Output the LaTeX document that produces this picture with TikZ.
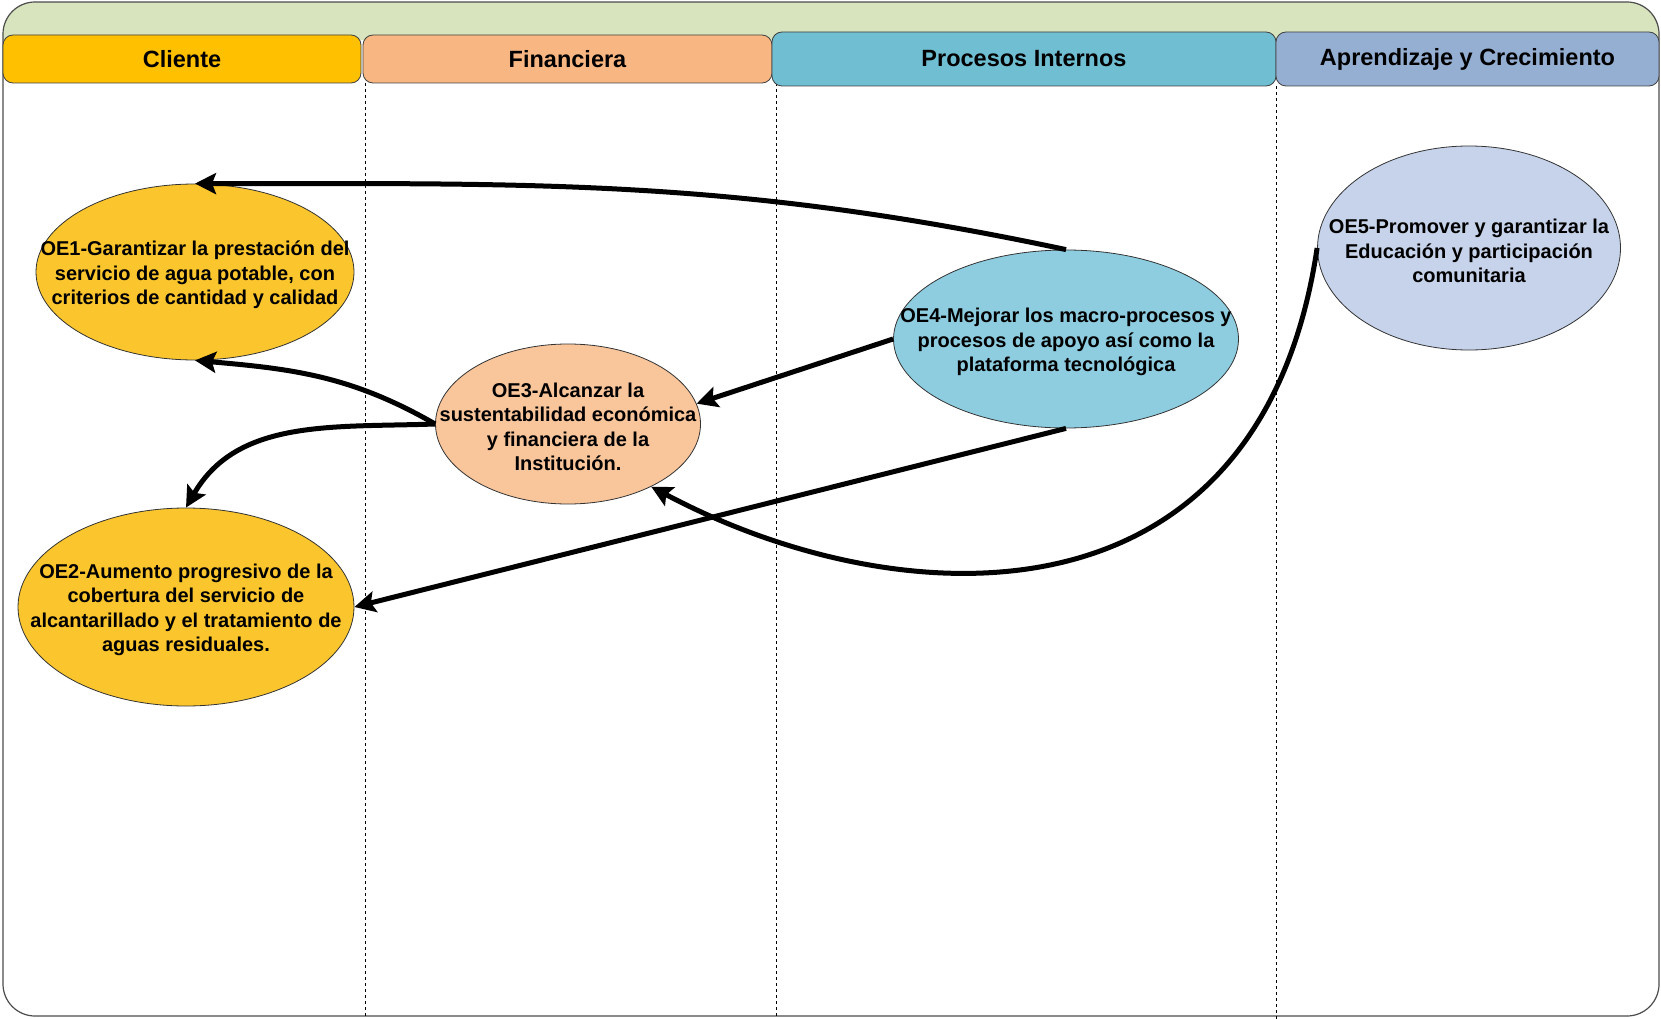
\documentclass[tikz,border=0pt]{standalone}
\usepackage{fontspec}
\setmainfont{Liberation Sans}
\usetikzlibrary{arrows.meta,shapes.geometric}
\definecolor{greeni}{RGB}{215,228,189}
\definecolor{yellowi}{RGB}{255,192,0}
\definecolor{yellowii}{RGB}{251,198,45}
\definecolor{orangei}{RGB}{248,183,130}
\definecolor{orangeii}{RGB}{249,197,155}
\definecolor{bluei}{RGB}{111,190,209}
\definecolor{blueii}{RGB}{142,205,224}
\definecolor{lilaci}{RGB}{149,175,211}
\definecolor{lilacii}{RGB}{198,211,234}
\tikzset{
      myheadblock/.style n args={3}{
        draw=black!75,
        fill=#1,
        line width=0.8pt,
        rounded corners=10pt,
        inner sep=0pt,
        minimum width=#2,
        minimum height=#3,
        font=\fontsize{23.5}{27}\selectfont\bfseries
      },
      mygoal/.style n args={3}{
        ellipse,
        draw=black!80,
        fill=#1,
        line width=0.8pt,
        inner sep=0pt,
        minimum width=#2,
        minimum height=#3
      },
      mygoaltext/.style={
        align=center,
        inner sep=0pt,
        yshift=-3pt,
        font=\fontsize{20}{24.5}\selectfont\bfseries
      },
      mylane/.style={
        dash pattern=on 3pt off 3pt,
        line width=1pt
      },
      myarrow/.style={
        line width=5pt,
        -{Stealth[length=21pt,width=21pt,inset=4pt]}
      },
    }
\begin{document}
\begin{tikzpicture}[x=1pt,y=1pt]
  \useasboundingbox (0,0) rectangle (1661,-1019);

  %Marco
  \begin{scope}
    \clip[rounded corners=32pt] (3,-2) rectangle (1659,-1016);
    \fill[greeni] (3,-2) rectangle (1659,-40);
  \end{scope}
  \draw[black!70,line width=1.2pt,rounded corners=32pt] (3,-2) rectangle (1659,-1016);

  %Separadores
  \draw[mylane] (365,-83) -- (365,-1016);
  \draw[mylane] (776,-83) -- (776,-1016);
  \draw[mylane] (1276,-86) -- (1276,-1019);

  %Perspectivas
  \node[myheadblock={yellowi}{358pt}{48pt}] (headCliente) at (182,-59) {Cliente};
  \node[myheadblock={orangei}{409pt}{48pt}] (headFinanciera) at (567.5,-59) {Financiera};
  \node[myheadblock={bluei}{504pt}{54pt}] (headProcesos) at (1024,-59) {Procesos Internos};
  \node[myheadblock={lilaci}{383pt}{54pt}] (headAprendizaje) at (1467.5,-59) {Aprendizaje y Crecimiento};

  %Objetivos
  \node[mygoal={yellowii}{318pt}{176pt}] (oe1) at (195,-272) {};
  \node[mygoaltext] (oe1Text) at (oe1.center)
    {OE1-Garantizar la prestación del\\servicio de agua potable, con\\criterios de cantidad y calidad};

  \node[mygoal={yellowii}{336pt}{198pt}] (oe2) at (186,-607) {};
  \node[mygoaltext] (oe2Text) at (oe2.center)
    {OE2-Aumento progresivo de la\\cobertura del servicio de\\alcantarillado y el tratamiento de\\aguas residuales.};

  \node[mygoal={orangeii}{265pt}{160pt}] (oe3) at (568,-424) {};
  \node[mygoaltext] (oe3Text) at (oe3.center)
    {OE3-Alcanzar la\\sustentabilidad económica\\y financiera de la\\Institución.};

  \node[mygoal={blueii}{345pt}{178pt}] (oe4) at (1066,-339) {};
  \node[mygoaltext] (oe4Text) at (oe4.center)
    {OE4-Mejorar los macro-procesos y\\procesos de apoyo así como la\\plataforma tecnológica};

  \node[mygoal={lilacii}{303pt}{204pt}] (oe5) at (1469,-248) {};
  \node[mygoaltext] (oe5Text) at (oe5.center)
    {OE5-Promover y garantizar la\\Educación y participación\\comunitaria};

  %Relaciones
  \draw[myarrow] (oe4.north) to[out=168,in=0] (oe1.north);
  \draw[myarrow] (oe4.west) -- (oe3.9);
  \draw[myarrow] (oe3.west) to[out=150,in=-5] (oe1.south);
  \draw[myarrow] (oe3.west) to[out=182,in=60] (oe2.north);
  \draw[myarrow] (oe4.south) -- (oe2.east);
  \draw[myarrow] (oe5.west) .. controls +(-58,-390) and +(246,-131) .. (oe3.-37);

\end{tikzpicture}
\end{document}
